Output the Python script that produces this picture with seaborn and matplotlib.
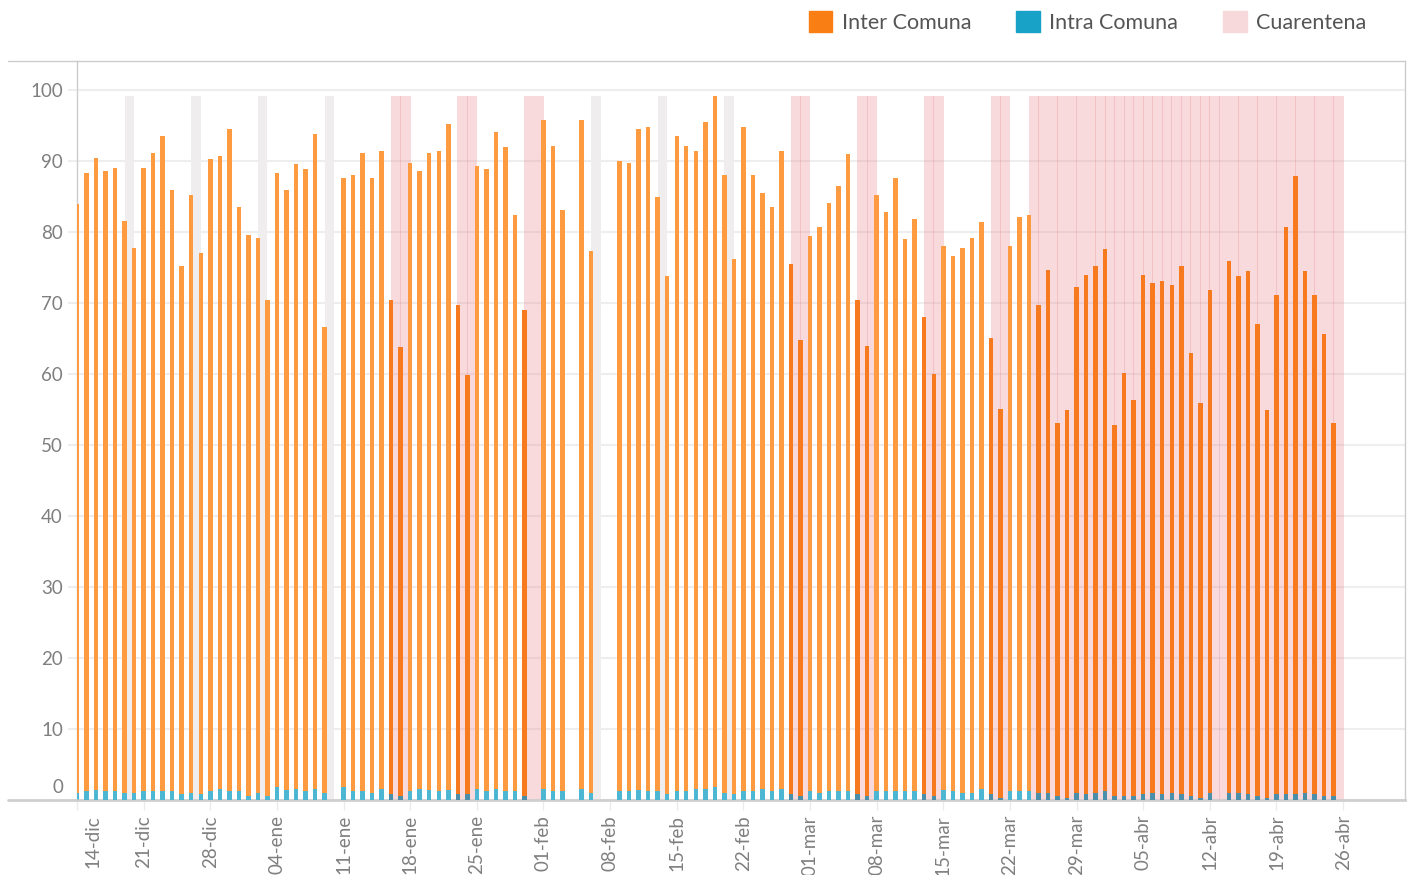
import numpy as np
import pandas as pd
import matplotlib
matplotlib.use("Agg")
import matplotlib.pyplot as plt
import matplotlib.transforms as mtransforms
from matplotlib.lines import Line2D
from matplotlib.patches import Patch
import seaborn as sns

# Daily share of trips, one entry per day starting on 14-dic (None = no data)
inter_comuna = [
    83.0, 87.0, 89.0, 87.3, 87.7, 80.5, 76.7, 87.7, 89.8, 92.2,
    84.6, 74.3, 84.2, 76.2, 89.0, 89.1, 93.2, 82.2, 79.0, 78.2,
    69.8, 86.5, 84.5, 88.0, 87.6, 92.2, 65.7, None, 85.8, 86.7,
    89.8, 86.6, 89.8, 69.5, 63.2, 88.4, 87.0, 89.7, 90.1, 93.8,
    68.8, 59.1, 87.7, 87.6, 92.5, 90.7, 81.1, 68.4, None, 94.2,
    90.8, 81.8, None, 94.2, 76.3, None, None, 88.7, 88.4, 93.1,
    93.5, 83.6, 72.9, 92.2, 90.8, 89.8, 93.9, 97.3, 87.0, 75.3,
    93.5, 86.7, 83.9, 82.2, 89.8, 74.6, 64.2, 78.1, 79.7, 82.8,
    85.2, 89.7, 69.5, 63.3, 83.9, 81.5, 86.3, 77.7, 80.5, 67.1,
    59.4, 76.6, 75.3, 76.7, 78.2, 79.8, 64.2, 54.8, 76.7, 80.8,
    81.1, 68.7, 73.6, 52.5, 54.6, 71.3, 73.1, 74.2, 76.3, 52.2,
    59.5, 55.7, 73.1, 71.8, 72.2, 71.5, 74.3, 62.4, 55.6, 70.8,
    None, 74.9, 72.8, 73.6, 66.4, 54.6, 70.3, 79.8, 87.0, 73.5,
    70.3, 65.0, 52.5,
]
intra_comuna = [
    1.0, 1.3, 1.4, 1.3, 1.3, 1.0, 1.0, 1.3, 1.3, 1.3,
    1.3, 0.9, 1.0, 0.8, 1.3, 1.6, 1.3, 1.3, 0.6, 1.0,
    0.6, 1.8, 1.4, 1.6, 1.3, 1.6, 1.0, None, 1.8, 1.3,
    1.3, 1.0, 1.6, 0.9, 0.6, 1.3, 1.6, 1.4, 1.3, 1.4,
    0.9, 0.8, 1.6, 1.3, 1.6, 1.3, 1.3, 0.6, None, 1.6,
    1.3, 1.3, None, 1.6, 1.0, None, None, 1.3, 1.3, 1.4,
    1.3, 1.3, 0.9, 1.3, 1.3, 1.6, 1.6, 1.8, 1.0, 0.9,
    1.3, 1.3, 1.6, 1.3, 1.6, 0.9, 0.6, 1.3, 1.0, 1.3,
    1.3, 1.3, 0.9, 0.6, 1.3, 1.3, 1.3, 1.3, 1.3, 0.9,
    0.6, 1.4, 1.3, 1.0, 1.0, 1.6, 0.9, 0.3, 1.3, 1.3,
    1.3, 1.0, 1.0, 0.6, 0.3, 1.0, 0.8, 1.0, 1.3, 0.6,
    0.6, 0.6, 0.8, 1.0, 0.9, 1.0, 0.9, 0.6, 0.3, 1.0,
    None, 1.0, 1.0, 0.9, 0.6, 0.3, 0.8, 0.9, 0.9, 1.0,
    0.8, 0.6, 0.6,
]

# Quarantine days (shaded band), days whose trips fall under restriction,
# and Saturdays without quarantine (grey band)
cuarentena = [33, 34, 40, 41, 47, 48, 75, 76, 82, 83, 89, 90, 96, 97] + list(range(100, 133))
dias_restringidos = [33, 34, 40, 41, 47, 75, 76, 82, 83, 89, 90, 96, 97] + list(range(101, 133))
sabados_libres = [5, 12, 19, 26, 54, 61, 68]

tick_dias = list(range(0, 134, 7))
tick_labels = ["14-dic", "21-dic", "28-dic", "04-ene", "11-ene", "18-ene", "25-ene",
               "01-feb", "08-feb", "15-feb", "22-feb", "01-mar", "08-mar", "15-mar",
               "22-mar", "29-mar", "05-abr", "12-abr", "19-abr", "26-abr"]

df = pd.DataFrame({"dia": np.arange(len(inter_comuna)),
                   "inter": inter_comuna, "intra": intra_comuna}).dropna()
df["total"] = df["inter"] + df["intra"]
df["fase"] = np.where(df["dia"].isin(dias_restringidos), "restringido", "normal")

sns.set_style("white")
plt.rcParams["font.family"] = ["Lato", "DejaVu Sans"]

W, H = 1410, 875
fig = plt.figure(figsize=(W / 100, H / 100), dpi=100)
ax = fig.add_axes([77 / W, 75 / H, 1328 / W, 739 / H])

band_top = 99.2
for d in sabados_libres:
    ax.fill_between([d, d + 1], 0, band_top, color="#EFEDED", lw=0, zorder=1)
for d in cuarentena:
    ax.fill_between([d - 0.04, d + 1.04], 0, band_top, color="#E8868E",
                    alpha=0.3, lw=0, zorder=1)

sns.barplot(data=df, x="dia", y="total", hue="fase",
            palette={"normal": "#FE9B40", "restringido": "#F87A1E"},
            saturation=1, native_scale=True, dodge=False, width=0.47,
            errorbar=None, legend=False, linewidth=0, ax=ax, zorder=3)
sns.barplot(data=df, x="dia", y="intra", hue="fase",
            palette={"normal": "#4DB6D3", "restringido": "#4A8EA9"},
            saturation=1, native_scale=True, dodge=False, width=0.47,
            errorbar=None, legend=False, linewidth=0, ax=ax, zorder=4)

ax.set_xlim(0, 139.5)
ax.set_ylim(0, 104.1)
ax.set_xlabel("")
ax.set_ylabel("")

ax.set_yticks(range(0, 101, 10))
ax.yaxis.grid(True, color="#EEEEEE", lw=1.5, zorder=0)
ax.xaxis.grid(False)
ax.set_axisbelow(True)
ax.tick_params(axis="y", left=True, length=6.5, width=1.5, color="#EEEEEE",
               pad=3.6, labelsize=13.5, labelcolor="#7F7F7F")

ax.set_xticks(tick_dias, tick_labels, rotation=90)
ax.tick_params(axis="x", bottom=True, length=7, width=1, color="#EBEBEB",
               pad=3.8, labelsize=13.5, labelcolor="#7F7F7F")

# nudge the zero label up and the first date label right
ylab0 = ax.get_yticklabels()[0]
ylab0.set_transform(ylab0.get_transform() +
                    mtransforms.ScaledTranslation(0, 0.14, fig.dpi_scale_trans))
xlab0 = ax.get_xticklabels()[0]
xlab0.set_transform(xlab0.get_transform() +
                    mtransforms.ScaledTranslation(0.16, 0, fig.dpi_scale_trans))

for side in ["top", "right", "left"]:
    ax.spines[side].set_color("#CCCCCC")
    ax.spines[side].set_linewidth(1)
ax.spines["bottom"].set_color("#CFCFCF")
ax.spines["bottom"].set_linewidth(2)

# pane border continues under the value labels
fig.add_artist(Line2D([8 / W, 77 / W], [1 - 61 / H] * 2, color="#CCCCCC", lw=1))
fig.add_artist(Line2D([8 / W, 77 / W], [1 - 800 / H] * 2, color="#CFCFCF", lw=2))

handles = [Patch(color="#F97E14", label="Inter Comuna"),
           Patch(color="#18A2C8", label="Intra Comuna"),
           Patch(color="#F7D9DC", label="Cuarentena")]
fig.legend(handles=handles, loc="upper right", bbox_to_anchor=(1366 / W, 1 - 11 / H),
           ncol=3, frameon=False, fontsize=15.5, handlelength=1.1, handleheight=1.1,
           handletextpad=0.42, columnspacing=2.1, labelcolor="#555555",
           borderaxespad=0, borderpad=0)

fig.savefig("out.png", dpi=100)
